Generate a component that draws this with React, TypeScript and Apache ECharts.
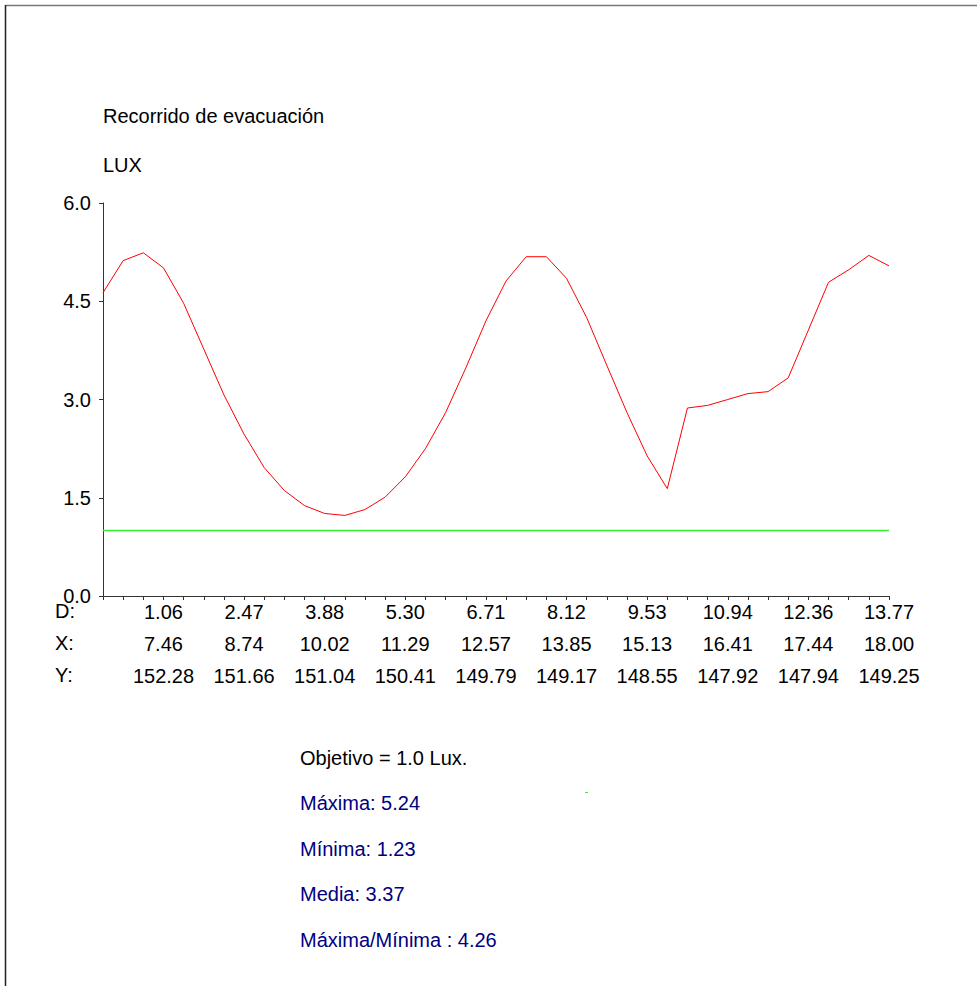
import React, { useEffect, useRef } from "react";
import * as echarts from "echarts";

// Illuminance measured along the evacuation route (40 equally spaced points)
const luxValues = [
  4.63, 5.12, 5.24, 5.01, 4.47, 3.77, 3.07, 2.47, 1.96, 1.61,
  1.38, 1.26, 1.23, 1.32, 1.51, 1.82, 2.25, 2.80, 3.48, 4.20,
  4.81, 5.18, 5.18, 4.85, 4.25, 3.52, 2.80, 2.14, 1.64, 2.87,
  2.91, 3.00, 3.09, 3.12, 3.33, 4.06, 4.79, 4.98, 5.20, 5.04,
];
const objetivo = 1.0;

// Tick labels shown under every 4th point (starting at the 4th)
const dLabels = ["1.06", "2.47", "3.88", "5.30", "6.71", "8.12", "9.53", "10.94", "12.36", "13.77"];
const xLabels = ["7.46", "8.74", "10.02", "11.29", "12.57", "13.85", "15.13", "16.41", "17.44", "18.00"];
const yLabels = ["152.28", "151.66", "151.04", "150.41", "149.79", "149.17", "148.55", "147.92", "147.94", "149.25"];

const rowNames = ["D:", "X:", "Y:"];
const title = "Recorrido de evacuación";
const unit = "LUX";
const summary = ["Máxima: 5.24", "Mínima: 1.23", "Media: 3.37", "Máxima/Mínima : 4.26"];
const objetivoText = "Objetivo = 1.0 Lux.";

const FONT = "'Liberation Sans', Arial, Helvetica, sans-serif";

export default function App() {
  const ref = useRef<HTMLDivElement>(null);
  useEffect(() => {
    if (!ref.current) return;
    const chart = echarts.init(ref.current, null, { renderer: "svg" });
    const categories = luxValues.map((_, i) => String(i));
    const textStyle = (color: string) => ({ fill: color, fontSize: 20, fontFamily: FONT });

    const graphics: any[] = [
      { type: "line", shape: { x1: 5.5, y1: 5.5, x2: 977, y2: 5.5 }, style: { stroke: "#777", lineWidth: 1.5 } },
      { type: "line", shape: { x1: 5.5, y1: 5, x2: 5.5, y2: 986 }, style: { stroke: "#222", lineWidth: 1.5 } },
      { type: "text", left: 103, top: 106, style: { text: title, ...textStyle("#000") } },
      { type: "text", left: 103, top: 155, style: { text: unit, ...textStyle("#000") } },
      { type: "text", left: 300, top: 748, style: { text: objetivoText, ...textStyle("#000") } },
      { type: "line", shape: { x1: 585, y1: 792.5, x2: 588, y2: 792.5 }, style: { stroke: "#33ee33", lineWidth: 1 } },
    ];
    rowNames.forEach((t, k) => {
      graphics.push({ type: "text", left: 55, top: 601 + k * 32, style: { text: t, ...textStyle("#000") } });
    });
    summary.forEach((t, k) => {
      graphics.push({ type: "text", left: 300, top: 793 + k * 45.5, style: { text: t, ...textStyle("#000080") } });
    });

    chart.setOption({
      animation: false,
      textStyle: { fontFamily: FONT },
      grid: { left: 103, right: 88, top: 203, bottom: 390, containLabel: false },
      xAxis: {
        type: "category",
        data: categories,
        boundaryGap: false,
        axisLine: { lineStyle: { color: "#333", width: 1 } },
        axisTick: { show: true, interval: 0, length: 4, lineStyle: { color: "#333" } },
        axisLabel: {
          interval: 0,
          margin: 0,
          color: "#000",
          fontSize: 20,
          lineHeight: 32,
          fontFamily: FONT,
          formatter: (_v: string, idx: number) => {
            if (idx % 4 !== 3) return "";
            const k = (idx - 3) / 4;
            return `${dLabels[k]}\n${xLabels[k]}\n${yLabels[k]}`;
          },
        },
        splitLine: { show: false },
      },
      yAxis: {
        type: "value",
        min: 0,
        max: 6,
        interval: 1.5,
        axisLine: { show: true, lineStyle: { color: "#333", width: 1 } },
        axisTick: { show: true, length: 4, lineStyle: { color: "#333" } },
        axisLabel: {
          margin: 12,
          color: "#000",
          fontSize: 20,
          fontFamily: FONT,
          formatter: (v: number) => v.toFixed(1),
        },
        splitLine: { show: false },
      },
      series: [
        {
          type: "line",
          data: luxValues,
          symbol: "none",
          lineStyle: { color: "#ff0000", width: 1 },
          z: 3,
        },
        {
          type: "line",
          data: luxValues.map(() => objetivo),
          symbol: "none",
          lineStyle: { color: "#33ee33", width: 1.5 },
          z: 2,
        },
      ],
      graphic: graphics,
    });
    return () => chart.dispose();
  }, []);

  return (
    <div
      ref={ref}
      style={{ position: "fixed", left: 0, top: 0, width: 977, height: 986, background: "#fff" }}
    />
  );
}
